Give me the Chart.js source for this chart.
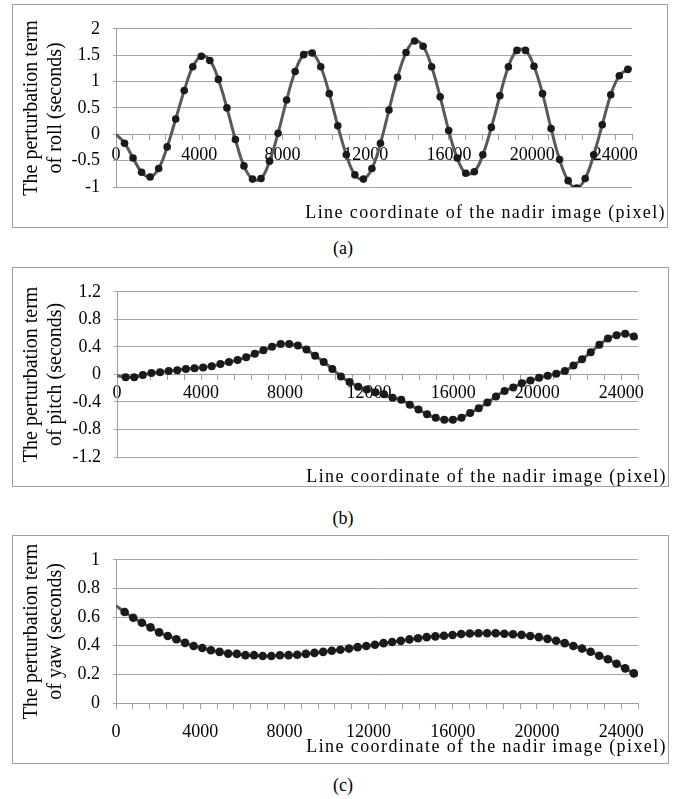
<!DOCTYPE html>
<html>
<head>
<meta charset="utf-8">
<script src="https://cdn.jsdelivr.net/npm/chart.js@4.4.1/dist/chart.umd.min.js"></script>
<style>
  body { margin: 0; background: #fff; width: 686px; height: 799px; position: relative; overflow: hidden; font-family: "Liberation Serif", "Times New Roman", serif; }
  .panel { position: absolute; left: 12px; border: 1px solid #a0a0a0; }
  .panel canvas { display: block; }
  .cap { position: absolute; left: 0; width: 686px; text-align: center; font-size: 18px; color: #000; }
</style>
</head>
<body>
<div class="panel" style="top:4px;width:654px;height:222px"><canvas id="rollChart"></canvas></div>
<div class="cap" style="top:238px">(a)</div>
<div class="panel" style="top:267px;width:655px;height:218px"><canvas id="pitchChart"></canvas></div>
<div class="cap" style="top:508px">(b)</div>
<div class="panel" style="top:535px;width:655px;height:227px"><canvas id="yawChart"></canvas></div>
<div class="cap" style="top:775px">(c)</div>
<script>
// line coordinates of the samples (first and last = ends of the curve, no marker)
const lineX = [0, 410, 820, 1230, 1640, 2050, 2460, 2870, 3280, 3690, 4100, 4510, 4920, 5330, 5740, 6150,
  6560, 6970, 7380, 7790, 8200, 8610, 9020, 9430, 9840, 10250, 10660, 11070, 11480, 11890, 12300, 12710,
  13120, 13530, 13940, 14350, 14760, 15170, 15580, 15990, 16400, 16810, 17220, 17630, 18040, 18450, 18860,
  19270, 19680, 20090, 20500, 20910, 21320, 21730, 22140, 22550, 22960, 23370, 23780, 24190, 24600, 24800];

const roll = [0, -0.17, -0.45, -0.72, -0.81, -0.65, -0.24, 0.29, 0.83, 1.28, 1.48, 1.40, 1.04, 0.50, -0.10,
  -0.60, -0.85, -0.84, -0.51, 0.02, 0.65, 1.19, 1.51, 1.54, 1.28, 0.77, 0.16, -0.39, -0.77, -0.85, -0.65,
  -0.17, 0.46, 1.08, 1.55, 1.77, 1.67, 1.28, 0.71, 0.07, -0.45, -0.74, -0.71, -0.39, 0.13, 0.73, 1.28, 1.59,
  1.59, 1.29, 0.77, 0.11, -0.48, -0.88, -1.02, -0.84, -0.39, 0.18, 0.75, 1.11, 1.23, 1.25];

const pitch = [-0.02, -0.04, -0.04, -0.01, 0.02, 0.03, 0.05, 0.06, 0.08, 0.09, 0.10, 0.12, 0.15, 0.18, 0.21,
  0.25, 0.30, 0.35, 0.40, 0.44, 0.44, 0.42, 0.36, 0.27, 0.18, 0.08, -0.03, -0.11, -0.18, -0.22, -0.26, -0.29,
  -0.34, -0.37, -0.44, -0.51, -0.58, -0.63, -0.66, -0.66, -0.63, -0.56, -0.49, -0.41, -0.32, -0.24, -0.19,
  -0.13, -0.09, -0.05, -0.02, 0.01, 0.05, 0.13, 0.22, 0.32, 0.43, 0.52, 0.57, 0.59, 0.55, 0.53];

const yaw = [0.68, 0.635, 0.595, 0.56, 0.528, 0.493, 0.468, 0.445, 0.42, 0.398, 0.384, 0.368, 0.357, 0.345,
  0.343, 0.334, 0.334, 0.328, 0.328, 0.333, 0.334, 0.337, 0.343, 0.35, 0.357, 0.365, 0.372, 0.38, 0.39, 0.398,
  0.407, 0.418, 0.426, 0.434, 0.444, 0.452, 0.46, 0.465, 0.47, 0.475, 0.482, 0.485, 0.487, 0.487, 0.487,
  0.484, 0.48, 0.476, 0.468, 0.46, 0.448, 0.435, 0.418, 0.398, 0.38, 0.358, 0.33, 0.305, 0.274, 0.242,
  0.207, 0.195];

const xTickLabels = [0, 4000, 8000, 12000, 16000, 20000, 24000];
const rollTicks = [-1, -0.5, 0, 0.5, 1, 1.5, 2];
const pitchTicks = [-1.2, -0.8, -0.4, 0, 0.4, 0.8, 1.2];
const yawTicks = [0, 0.2, 0.4, 0.6, 0.8, 1];

const xTitleText = 'Line coordinate of the nadir image (pixel)';

Chart.defaults.font.family = '"Liberation Serif", "Times New Roman", serif';
Chart.defaults.font.size = 18;
Chart.defaults.color = '#000';

// x axis title sits bottom right, running past the plot area like in Excel
const xTitlePlugin = {
  id: 'xTitle',
  afterDraw(chart, args, opts) {
    const ctx = chart.ctx;
    ctx.save();
    ctx.font = '18px "Liberation Serif"';
    ctx.letterSpacing = '1.4px';
    ctx.fillStyle = '#000';
    ctx.textAlign = 'right';
    ctx.textBaseline = 'middle';
    ctx.fillText(opts.text, chart.width - 1, chart.chartArea.bottom + opts.offset);
    ctx.restore();
  }
};

function makeChart(id, values, yTicks, yTitle, box) {
  const last = lineX.length - 1;
  return new Chart(document.getElementById(id), {
    type: 'line',
    data: {
      datasets: [{
        data: lineX.map((x, i) => ({ x: x, y: values[i] })),
        borderColor: '#595959',
        borderWidth: 3,
        tension: 0.4,
        pointRadius: ctx => (ctx.dataIndex === 0 || ctx.dataIndex === last) ? 0 : box.dot,
        pointBackgroundColor: '#1a1a1a',
        pointBorderWidth: 0
      }]
    },
    options: {
      responsive: true,
      maintainAspectRatio: false,
      animation: false,
      events: [],
      layout: { padding: { top: box.top, right: box.right, bottom: box.bottom, left: 0 } },
      plugins: {
        legend: { display: false },
        tooltip: { enabled: false },
        xTitle: { text: xTitleText, offset: box.titleOffset }
      },
      scales: {
        x: {
          type: 'linear',
          position: { y: 0 },
          min: 0,
          max: 24800,
          ticks: {
            stepSize: 800,
            autoSkip: false,
            maxRotation: 0,
            minRotation: 0,
            padding: box.tickPad,
            callback: v => xTickLabels.includes(v) ? String(v) : ''
          },
          grid: { drawOnChartArea: false, drawTicks: true, tickLength: 5, color: '#a0a0a0' },
          border: { color: '#a0a0a0' }
        },
        y: {
          min: yTicks[0],
          max: yTicks[yTicks.length - 1],
          afterBuildTicks: s => { s.ticks = yTicks.map(v => ({ value: v })); },
          afterFit: s => { s.width = box.left; },
          ticks: { padding: 13, callback: v => String(v) },
          grid: { color: '#a6a6a6', tickLength: 3 },
          border: { color: '#a0a0a0' },
          title: { display: true, text: yTitle, font: { size: 20 }, padding: { top: 7, bottom: 0 } }
        }
      }
    },
    plugins: [xTitlePlugin]
  });
}

makeChart('rollChart', roll, rollTicks, ['The perturbation term', 'of roll (seconds)'],
  { left: 103, top: 14, right: 35, bottom: 40, dot: 3.8, titleOffset: 26, tickPad: 5 });
makeChart('pitchChart', pitch, pitchTicks, ['The perturbation term', 'of pitch (seconds)'],
  { left: 104, top: 17, right: 30, bottom: 29, dot: 4, titleOffset: 20, tickPad: 3 });
makeChart('yawChart', yaw, yawTicks, ['The perturbation term', 'of yaw (seconds)'],
  { left: 103, top: 15, right: 30, bottom: 60, dot: 4.3, titleOffset: 44.5, tickPad: 13 });
</script>
</body>
</html>
